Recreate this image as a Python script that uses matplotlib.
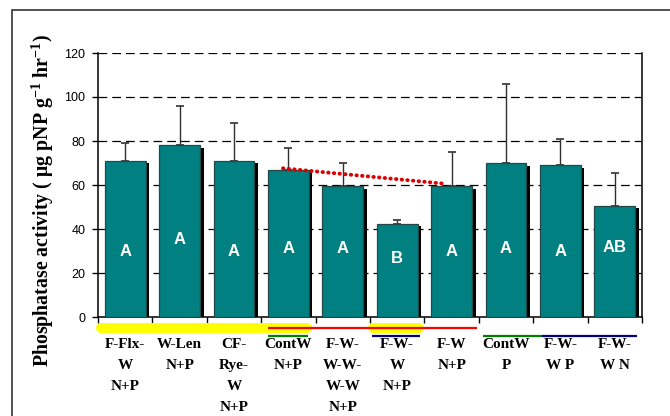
import matplotlib
matplotlib.use("Agg")
import matplotlib.pyplot as plt
from matplotlib.patches import Rectangle
import matplotlib.transforms as mtransforms

plt.rcParams["mathtext.fontset"] = "custom"
plt.rcParams["mathtext.rm"] = "Liberation Serif:bold"
plt.rcParams["mathtext.bf"] = "Liberation Serif:bold"
plt.rcParams["mathtext.default"] = "rm"

# Rotations / treatments
categories = [
    "F-Flx-\nW\nN+P", "W-Len\nN+P", "CF-\nRye-\nW\nN+P", "ContW\nN+P",
    "F-W-\nW-W-\nW-W\nN+P", "F-W-\nW\nN+P", "F-W\nN+P", "ContW\nP",
    "F-W-\nW P", "F-W-\nW N",
]
# Mean phosphatase activity and upper standard deviation
means = [71, 78, 71, 67, 59.5, 42.5, 59.5, 70, 69, 50.5]
sd_upper = [8, 18, 17, 10, 10.5, 1.7, 15.3, 36, 12, 15]
# Mean separation letters
letters = ["A", "A", "A", "A", "A", "B", "A", "A", "A", "AB"]
letter_y = [30, 35, 30, 31, 31, 26.5, 30, 31, 30, 31.5]
# Trend between continuous and fallow systems (N+P)
trend_x = [2.9, 5.91]
trend_y = [67.6, 60.5]
yticks = [0, 20, 40, 60, 80, 100, 120]

W, H = 670, 416
fig = plt.figure(figsize=(W / 100, H / 100), dpi=100)
ax = fig.add_axes([98 / W, 1 - 317 / H, (642 - 98) / W, (317 - 53) / H])

# outer frame
fig.patches.append(Rectangle((12.5 / W, -0.1), 1.5, 1 - 9.5 / H + 0.1,
                             transform=fig.transFigure, fill=False,
                             edgecolor="#333333", linewidth=1.2))

teal = "#008080"
xs = list(range(len(categories)))
bar_w = 0.75

# drop shadows
shadow = mtransforms.offset_copy(ax.transData, fig=fig, x=3.5, y=-2.5, units="dots")
ax.bar(xs, means, width=bar_w, color="black", edgecolor="none",
       transform=shadow, zorder=2)
ax.bar(xs, means, width=bar_w, color=teal, edgecolor="#244848",
       linewidth=0.9, zorder=3)
ax.errorbar(xs, means, yerr=[[0] * len(means), sd_upper], fmt="none",
            ecolor="#303030", elinewidth=1, capsize=3.2, capthick=1.2, zorder=2.5)

for x, lt, ly in zip(xs, letters, letter_y):
    ax.text(x, ly, lt, color="white", fontsize=12, fontweight="bold",
            family="Liberation Sans", ha="center", va="center", zorder=4)

ax.plot(trend_x, trend_y, color="#dd0000", linestyle=(0, (0.1, 1.36)),
        linewidth=2.8, dash_capstyle="round", zorder=5)

ax.set_xlim(-0.5, len(categories) - 0.5)
ax.set_ylim(0, 120)
ax.set_yticks(yticks)
ax.set_yticklabels([str(v) for v in yticks], family="Liberation Sans", fontsize=9)
ax.set_xticks(xs)
ax.set_xticklabels(categories, family="Liberation Serif", fontweight="bold",
                   fontsize=11, linespacing=1.8)
ax.set_xticks([i - 0.5 for i in range(len(categories) + 1)], minor=True)
ax.tick_params(axis="x", which="major", length=0, pad=15)
ax.tick_params(axis="x", which="minor", length=4, width=1, direction="out")
ax.tick_params(axis="y", length=4, width=1, direction="out", pad=5)

ax.yaxis.grid(True, color="black", linestyle=(0, (7, 4)), linewidth=0.9, zorder=1)
ax.set_axisbelow(True)
for side in ("left", "right", "bottom"):
    ax.spines[side].set_linewidth(1.1)
    ax.spines[side].set_color("black")
ax.spines["top"].set_visible(False)

fig.text(43 / W, 1 - 201 / H,
         "Phosphatase activity ( μg pNP g$^{-1}$ hr$^{-1}$)",
         family="Liberation Serif", fontweight="bold", fontsize=14.3,
         rotation=90, ha="center", va="center")

# grouping markers under the axis
def seg(x0, x1, y, color, lw, cap="butt", z=5):
    ax.plot([x0, x1], [y, y], color=color, linewidth=lw, solid_capstyle=cap,
            clip_on=False, zorder=z)

seg(-0.45, 3.35, -5.1, "#ffff00", 7.2, "round")
seg(4.55, 5.40, -5.1, "#ffff00", 7.2, "round")
seg(2.625, 6.46, -5.1, "#ff0000", 1.6, z=6)
seg(2.625, 3.36, -8.7, "#008000", 1.6)
seg(4.53, 5.42, -8.7, "#000080", 1.6)
seg(6.58, 7.66, -8.7, "#008000", 1.6)
seg(7.66, 9.40, -8.7, "#000080", 1.6)

fig.savefig("out.png", dpi=100)
